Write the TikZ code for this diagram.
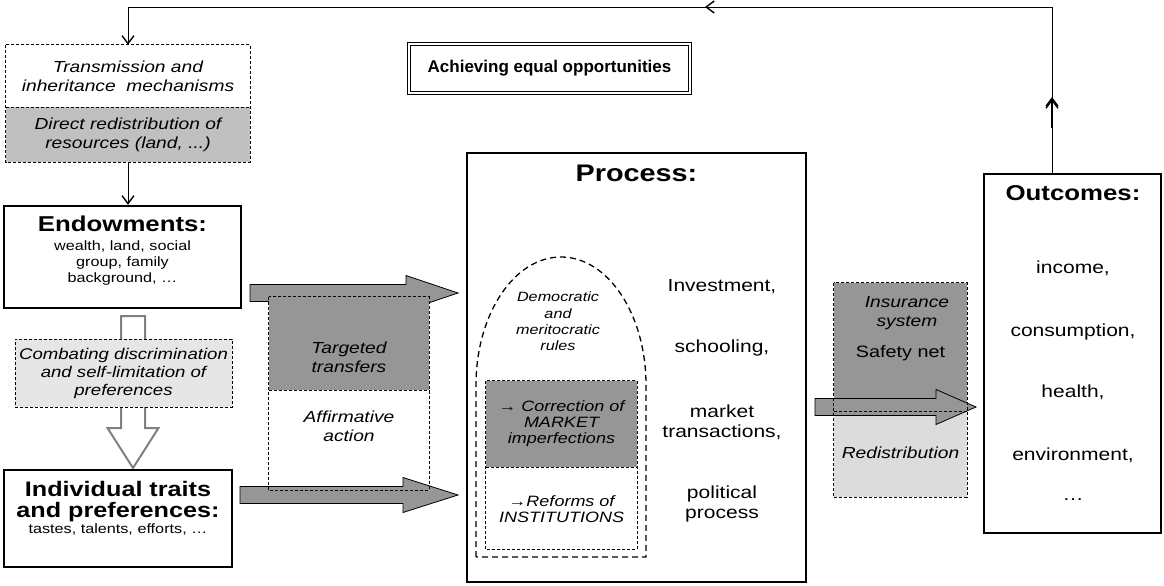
\documentclass[tikz,border=0pt]{standalone}
\usepackage{fontspec}
\setmainfont{Liberation Sans}[FakeStretch=1.2]
\newfontfamily\titlefont{Liberation Sans}
\usetikzlibrary{arrows.meta, calc, fit, decorations.markings}

\definecolor{darkfill}{HTML}{969696}
\definecolor{midfill}{HTML}{C0C0C0}
\definecolor{lightfill}{HTML}{E6E6E6}
\definecolor{dotfill}{HTML}{DCDCDC}

\begin{document}
\begin{tikzpicture}[x=1pt, y=-1pt,
    thickbox/.style={draw, line width=2.4pt, inner sep=0pt},
    dashbox/.style={draw, line width=0.7pt, dash pattern=on 3pt off 2pt},
    fillbox/.style={inner sep=0pt},
    head/.style={font=\fontsize{21.5}{24}\selectfont\bfseries, align=center},
    small/.style={font=\fontsize{13.5}{16}\selectfont, align=center},
    note/.style={font=\fontsize{16}{19}\selectfont\itshape, align=center},
    item/.style={font=\fontsize{17.5}{20}\selectfont, align=center},
    tip/.style={-{Straight Barb[length=8pt,width=12pt,line width=1.4pt]}},
    garrow/.style={draw, line width=0.8pt, fill=darkfill,
        to path={let \p1=(\tikztostart), \p2=(\tikztotarget) in
        (\x1,{\y1+8.5pt}) -- ({\x2-#1},{\y1+8.5pt}) -- ({\x2-#1},{\y1+17.5pt}) -- (\x2,\y1)
        -- ({\x2-#1},{\y1-17.5pt}) -- ({\x2-#1},{\y1-8.5pt}) -- (\x1,{\y1-8.5pt}) -- cycle}},
    garrow/.default=52pt,
    hollowarrow/.style={draw=black!50, line width=2pt, fill=white,
        to path={let \p1=(\tikztostart), \p2=(\tikztotarget) in
        ({\x1-12pt},\y1) -- ({\x1-12pt},{\y2+40pt}) -- ({\x1-25.5pt},{\y2+40pt}) -- (\x2,\y2)
        -- ({\x1+25.5pt},{\y2+40pt}) -- ({\x1+12pt},{\y2+40pt}) -- ({\x1+12pt},\y1) -- cycle}}
]
    \useasboundingbox (0,0) rectangle (1164,586);

    % Title
    \node[draw, double, line width=0.9pt, double distance=2pt, inner sep=0pt,
          fit={(409,44) (690,93)}] (titlebox) {};
    \node[font=\titlefont\fontsize{17}{20}\selectfont\bfseries] (title) at (titlebox.center) {Achieving equal opportunities};

    % Left column
    \node[fillbox, fit={(6,45) (250,107)}] (trans) {};
    \node[fillbox, fill=midfill, fit={(6,107) (250,162)}] (redis) {};
    \draw[dashbox] (trans.north west) rectangle (redis.south east);
    \draw[dashbox] (trans.south west) -- (trans.south east);
    \node[note] (trans-t) at (128,76) {Transmission and\\inheritance~ mechanisms};
    \node[note] (redis-t) at (128,135) {Direct redistribution of\\resources (land, ...)};

    \node[thickbox, fit={(4,206) (241,308)}] (endow) {};
    \node[head] (endow-t) at (122.5,224) {Endowments:};
    \node[small] (endow-d) at (122.5,263) {wealth, land, social\\group, family\\background, …};

    \coordinate (hol-s) at (133,316);
    \coordinate (hol-e) at (133,468);
    \draw[hollowarrow] (hol-s) to (hol-e);

    \node[dashbox, fill=lightfill, inner sep=0pt, fit={(15,339) (232,407)}] (combat) {};
    \node[note, font=\fontsize{15.5}{18}\selectfont\itshape] (combat-t) at (123.5,373)
        {Combating discrimination\\and self-limitation of\\preferences};

    \node[thickbox, fit={(4,470) (232,567)}] (indiv) {};
    \node[head, font=\fontsize{21}{21}\selectfont\bfseries] (indiv-t) at (118,502) {Individual traits\\and preferences:};
    \node[small] (indiv-d) at (118,529) {tastes, talents, efforts, …};

    % Feedback loop
    \coordinate (fb-s) at (1052,174);
    \coordinate (fb-r) at (1052,7);
    \coordinate (fb-l) at (trans.north |- fb-r);
    \draw[line width=0.8pt, tip, postaction={decorate}, decoration={markings,
        mark=at position 77pt with {\draw[line width=1.6pt] (-31pt,0) -- (-2pt,0);
            \arrow{Straight Barb[length=8pt,width=12pt,line width=1.4pt]}},
        mark=at position 514pt with {\arrow{Straight Barb[length=8pt,width=12pt,line width=1.4pt]}}}]
        (fb-s) -- (fb-r) -- (fb-l) -- (trans.north);
    \draw[line width=0.8pt, tip] (redis.south) -- (redis.south |- endow.north);

    % Policies between endowments and process
    \coordinate (up-s) at (250,293);
    \coordinate (up-e) at (458,293);
    \coordinate (lo-s) at (240,495);
    \coordinate (lo-e) at (458,495);
    \draw[garrow] (up-s) to (up-e);
    \node[fillbox, fill=darkfill, fit={(269,297) (429,390)}] (target) {};
    \node[fillbox, fill=white, fit={(269,390) (429,490)}] (affirm) {};
    \draw[garrow=55pt] (lo-s) to (lo-e);
    \draw[dashbox] (target.north west) rectangle (affirm.south east);
    \draw[dashbox] (target.south west) -- (target.south east);
    \node[note] (target-t) at (349,357) {Targeted\\transfers};
    \node[note] (affirm-t) at (349,426) {Affirmative\\action};

    % Process
    \node[thickbox, fit={(467,153) (806,582)}] (proc) {};
    \node[head, font=\fontsize{24}{24}\selectfont\bfseries] (proc-t) at (636.5,173) {Process:};
    \draw[line width=1.3pt, dash pattern=on 6pt off 4pt]
        (476,557) -- (476,385) arc[start angle=180, end angle=360, x radius=85, y radius=128]
        -- (646,557) -- cycle;
    \node[small, font=\fontsize{13.5}{16.3}\selectfont\itshape] (demo) at (558,321.5)
        {Democratic\\and\\meritocratic\\rules};
    \node[fillbox, fill=darkfill, fit={(486,381) (637,467)}] (market) {};
    \node[fillbox, fill=white, fit={(486,467) (637,549)}] (inst) {};
    \draw[dashbox] (market.north west) rectangle (inst.south east);
    \draw[dashbox] (market.south west) -- (market.south east);
    \node[note, font=\fontsize{15}{16}\selectfont\itshape] (market-t) at (market.center)
        {→ Correction of\\MARKET\\imperfections};
    \node[note, font=\fontsize{15}{16}\selectfont\itshape] (inst-t) at (561.5,509.5)
        {→Reforms of\\INSTITUTIONS};
    \node[item] (invest) at (722,287) {Investment,};
    \node[item] (school) at (722,348) {schooling,};
    \node[item] (transact) at (722,422) {market\\transactions,};
    \node[item] (polit) at (722,504) {political\\process};

    % Insurance between process and outcomes
    \node[fillbox, fill=darkfill, fit={(834,283) (967,411)}] (insur) {};
    \node[fillbox, fill=dotfill, fit={(834,411) (967,497)}] (redist) {};
    \coordinate (ins-s) at (815,407);
    \coordinate (ins-e) at (976,407);
    \draw[garrow=40pt] (ins-s) to (ins-e);
    \draw[dashbox] (insur.north west) rectangle (redist.south east);
    \draw[dashbox] (insur.south west) -- (insur.south east);
    \node[note] (insur-t) at (907,313.5) {Insurance\\system};
    \node[note, font=\fontsize{16.5}{19}\selectfont] (safety) at (900.5,353) {Safety net};
    \node[note] (redist-t) at (900.5,453) {Redistribution};

    % Outcomes
    \node[thickbox, fit={(984,174) (1161,533)}] (outc) {};
    \node[head] (outc-t) at (1073,193) {Outcomes:};
    \node[item] (income) at (1073,268) {income,};
    \node[item] (consum) at (1073,332) {consumption,};
    \node[item] (health) at (1073,392) {health,};
    \node[item] (environ) at (1073,455) {environment,};
    \node[item] (etc) at (1073,500) {…};

\end{tikzpicture}
\end{document}
